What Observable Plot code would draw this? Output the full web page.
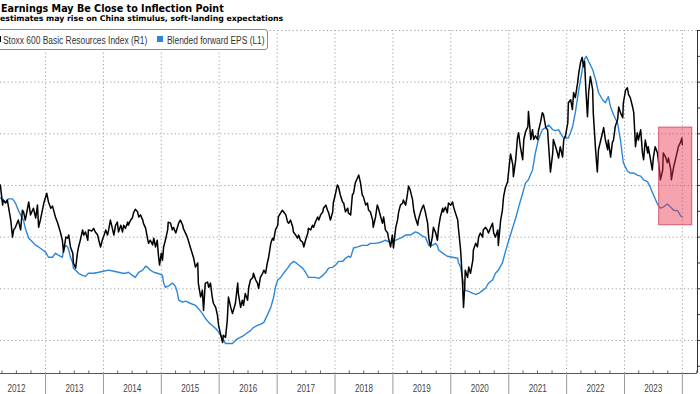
<!DOCTYPE html>
<html><head><meta charset="utf-8">
<script src="https://cdn.jsdelivr.net/npm/d3@7"></script>
<script src="https://cdn.jsdelivr.net/npm/@observablehq/plot@0.6"></script>
<style>
body{margin:0;background:#fff;}
#wrap{position:relative;width:700px;height:394px;overflow:hidden;background:#fff;}
#chart{position:absolute;left:0;top:0;}
.t{position:absolute;white-space:nowrap;line-height:1;color:#000;}
.lg{position:absolute;white-space:nowrap;line-height:1;font:10px 'Liberation Sans',sans-serif;color:#333;transform:scaleX(0.84);transform-origin:0 0;}
.sq{position:absolute;width:6px;height:6px;}
</style></head><body>
<div id="wrap">
  <div id="chart"></div>
  <div class="t" style="left:1px;top:3px;font:bold 9.6px 'DejaVu Sans',sans-serif;">Earnings May Be Close to Inflection Point</div>
  <div class="t" style="left:0px;top:14px;font:bold 7.8px 'DejaVu Sans',sans-serif;">estimates may rise on China stimulus, soft-landing expectations</div>
  <div style="position:absolute;left:-12px;top:29px;width:278px;height:19px;border:1px solid #8a8a8a;border-radius:3px;background:#fff;"></div>
  <div class="sq" style="left:-5px;top:36px;background:#000;"></div>
  <div class="lg" style="left:3px;top:34.5px;">Stoxx 600 Basic Resources Index (R1)</div>
  <div class="sq" style="left:157px;top:36px;background:#2d87d8;"></div>
  <div class="lg" style="left:167px;top:34.5px;">Blended forward EPS (L1)</div>
</div>
<script>
// ---- data (dates as decimal years) ----
const stoxxDates = [2012.22,2012.26,2012.27,2012.31,2012.34,2012.40,2012.43,2012.45,2012.48,2012.53,2012.57,2012.60,2012.62,2012.65,2012.71,2012.74,2012.79,2012.83,2012.86,2012.88,2012.91,2012.97,2013.02,2013.05,2013.09,2013.12,2013.17,2013.21,2013.26,2013.29,2013.31,2013.35,2013.38,2013.40,2013.43,2013.47,2013.48,2013.52,2013.55,2013.57,2013.60,2013.64,2013.66,2013.69,2013.73,2013.74,2013.80,2013.83,2013.86,2013.90,2013.92,2013.95,2013.99,2014.00,2014.04,2014.07,2014.09,2014.12,2014.16,2014.18,2014.21,2014.24,2014.26,2014.30,2014.33,2014.35,2014.38,2014.42,2014.43,2014.47,2014.50,2014.52,2014.55,2014.59,2014.61,2014.64,2014.68,2014.69,2014.73,2014.76,2014.78,2014.81,2014.85,2014.87,2014.90,2014.93,2014.95,2014.97,2015.00,2015.02,2015.04,2015.07,2015.11,2015.12,2015.16,2015.19,2015.21,2015.25,2015.30,2015.33,2015.37,2015.38,2015.45,2015.50,2015.56,2015.59,2015.63,2015.64,2015.68,2015.71,2015.73,2015.76,2015.80,2015.82,2015.85,2015.88,2015.90,2015.94,2015.97,2015.99,2016.02,2016.06,2016.07,2016.11,2016.14,2016.16,2016.20,2016.23,2016.28,2016.32,2016.33,2016.37,2016.40,2016.42,2016.45,2016.49,2016.51,2016.54,2016.58,2016.59,2016.63,2016.66,2016.68,2016.71,2016.75,2016.77,2016.80,2016.83,2016.85,2016.89,2016.92,2016.94,2016.97,2017.01,2017.02,2017.06,2017.09,2017.11,2017.15,2017.18,2017.20,2017.23,2017.27,2017.28,2017.32,2017.35,2017.37,2017.40,2017.44,2017.46,2017.49,2017.53,2017.54,2017.58,2017.61,2017.63,2017.66,2017.70,2017.72,2017.75,2017.79,2017.80,2017.84,2017.87,2017.89,2017.92,2017.96,2017.97,2018.01,2018.04,2018.06,2018.09,2018.13,2018.15,2018.18,2018.22,2018.23,2018.27,2018.30,2018.32,2018.35,2018.39,2018.41,2018.44,2018.47,2018.49,2018.53,2018.56,2018.58,2018.61,2018.65,2018.66,2018.70,2018.73,2018.75,2018.79,2018.82,2018.84,2018.87,2018.91,2018.92,2018.96,2018.99,2019.01,2019.03,2019.05,2019.08,2019.10,2019.13,2019.17,2019.18,2019.22,2019.25,2019.27,2019.30,2019.34,2019.36,2019.39,2019.43,2019.44,2019.48,2019.51,2019.53,2019.56,2019.60,2019.62,2019.65,2019.68,2019.70,2019.74,2019.77,2019.79,2019.82,2019.86,2019.87,2019.91,2019.94,2019.96,2020.00,2020.03,2020.05,2020.08,2020.12,2020.13,2020.17,2020.20,2020.22,2020.24,2020.25,2020.29,2020.31,2020.34,2020.38,2020.39,2020.43,2020.46,2020.48,2020.51,2020.55,2020.56,2020.60,2020.63,2020.65,2020.69,2020.72,2020.74,2020.77,2020.81,2020.82,2020.86,2020.89,2020.91,2020.94,2020.98,2021.00,2021.03,2021.07,2021.08,2021.12,2021.15,2021.17,2021.20,2021.24,2021.26,2021.29,2021.33,2021.34,2021.36,2021.38,2021.41,2021.43,2021.46,2021.50,2021.51,2021.55,2021.58,2021.60,2021.64,2021.67,2021.69,2021.72,2021.76,2021.77,2021.81,2021.84,2021.86,2021.89,2021.93,2021.95,2021.98,2022.02,2022.03,2022.07,2022.10,2022.12,2022.15,2022.19,2022.21,2022.24,2022.27,2022.29,2022.31,2022.33,2022.36,2022.38,2022.41,2022.45,2022.46,2022.50,2022.53,2022.55,2022.59,2022.62,2022.64,2022.67,2022.71,2022.72,2022.76,2022.79,2022.81,2022.84,2022.88,2022.90,2022.93,2022.97,2022.98,2023.02,2023.05,2023.07,2023.10,2023.14,2023.16,2023.19,2023.22,2023.24,2023.28,2023.31,2023.33,2023.36,2023.40,2023.41,2023.45,2023.48,2023.50,2023.53,2023.57,2023.59,2023.62,2023.66,2023.67,2023.71,2023.74,2023.76,2023.80,2023.81,2023.85,2023.88,2023.92,2023.93,2023.97,2023.99,2024.00];
const stoxxValues = [501,462,472,466,472,433,400,414,419,433,414,452,449,433,468,443,456,437,462,419,433,466,485,468,456,460,439,427,408,394,371,400,398,404,381,369,350,340,369,381,394,414,404,410,394,414,412,417,410,404,394,381,398,400,414,404,414,433,414,404,423,429,410,423,410,423,417,429,423,433,437,447,454,449,439,443,433,427,417,398,388,394,385,398,381,394,365,346,369,355,381,394,414,429,427,414,419,408,427,433,423,417,400,381,359,342,350,311,284,297,258,311,313,303,311,284,272,264,249,229,214,196,210,206,239,284,264,252,272,311,291,264,278,268,291,278,303,317,322,330,317,311,301,322,330,336,330,350,359,388,398,394,414,423,439,447,452,449,443,429,427,433,419,410,404,398,404,394,390,381,394,408,417,414,423,419,429,439,433,443,449,456,462,452,447,433,449,466,485,501,497,482,468,466,449,456,447,443,482,485,505,515,520,505,482,478,462,466,452,449,433,419,439,462,456,439,427,439,414,408,400,381,404,379,400,419,433,449,462,466,472,462,482,499,491,472,452,437,423,433,449,458,462,449,427,398,381,400,419,408,394,419,439,456,449,458,447,466,462,468,458,447,433,419,375,317,264,303,336,322,342,330,355,375,388,381,400,408,400,414,419,414,408,419,427,408,400,414,384,433,452,478,495,507,530,561,540,517,550,592,602,575,550,589,604,614,643,618,589,608,589,596,589,604,623,641,637,612,608,575,526,563,589,575,563,553,575,555,589,596,621,660,666,647,680,670,699,718,738,748,730,740,691,633,680,711,685,641,569,526,569,588,602,612,588,569,588,555,583,588,614,627,652,641,631,660,685,689,676,670,652,641,575,602,588,608,563,550,588,563,575,550,530,555,575,563,544,511,530,563,555,544,553,530,511,536,550,569,575,584,592,579];

const epsDates = [2012.22,2012.31,2012.36,2012.43,2012.48,2012.53,2012.57,2012.62,2012.65,2012.71,2012.78,2012.83,2012.88,2012.95,2013.00,2013.05,2013.12,2013.17,2013.22,2013.29,2013.31,2013.35,2013.38,2013.40,2013.43,2013.47,2013.48,2013.52,2013.57,2013.64,2013.69,2013.74,2013.83,2013.92,2014.00,2014.09,2014.18,2014.26,2014.33,2014.38,2014.43,2014.50,2014.55,2014.61,2014.68,2014.73,2014.76,2014.81,2014.87,2014.93,2014.99,2015.02,2015.04,2015.07,2015.12,2015.19,2015.23,2015.25,2015.28,2015.30,2015.37,2015.42,2015.50,2015.59,2015.64,2015.71,2015.76,2015.82,2015.88,2015.94,2015.99,2016.06,2016.11,2016.16,2016.23,2016.28,2016.33,2016.40,2016.45,2016.54,2016.59,2016.66,2016.71,2016.77,2016.83,2016.89,2016.94,2016.97,2017.01,2017.06,2017.11,2017.18,2017.23,2017.28,2017.33,2017.37,2017.44,2017.49,2017.54,2017.61,2017.66,2017.72,2017.79,2017.84,2017.89,2017.96,2018.01,2018.06,2018.13,2018.18,2018.23,2018.27,2018.32,2018.39,2018.47,2018.56,2018.61,2018.70,2018.79,2018.87,2018.96,2019.05,2019.13,2019.22,2019.30,2019.39,2019.44,2019.51,2019.56,2019.62,2019.68,2019.74,2019.77,2019.79,2019.86,2019.94,2020.03,2020.12,2020.13,2020.17,2020.20,2020.22,2020.25,2020.31,2020.38,2020.43,2020.48,2020.55,2020.60,2020.65,2020.72,2020.77,2020.82,2020.89,2020.94,2021.00,2021.07,2021.12,2021.17,2021.24,2021.29,2021.34,2021.41,2021.46,2021.51,2021.58,2021.64,2021.69,2021.76,2021.81,2021.86,2021.93,2021.98,2022.03,2022.10,2022.15,2022.21,2022.27,2022.31,2022.34,2022.38,2022.45,2022.50,2022.55,2022.62,2022.67,2022.72,2022.76,2022.81,2022.88,2022.93,2022.98,2023.05,2023.10,2023.16,2023.22,2023.28,2023.33,2023.40,2023.45,2023.50,2023.57,2023.62,2023.67,2023.74,2023.80,2023.85,2023.92,2023.97,2024.00];
const epsValues = [476,468,474,474,466,452,443,433,417,398,390,384,381,375,371,361,361,369,365,361,375,384,381,375,361,350,340,336,330,326,324,330,330,332,334,336,334,332,330,330,332,326,322,332,336,344,342,336,332,330,328,326,311,303,305,311,307,303,291,278,274,276,272,268,262,252,243,235,229,223,216,204,194,194,194,200,204,208,212,219,225,229,231,235,249,264,284,303,317,322,330,340,348,353,350,346,340,332,322,322,322,320,326,332,340,342,346,353,353,359,363,361,379,381,384,384,388,388,390,394,390,394,398,404,404,410,408,402,400,384,384,388,383,375,369,363,361,359,351,342,322,311,297,295,291,289,291,297,301,311,317,330,336,350,371,394,419,437,458,485,505,511,530,563,588,608,612,617,608,606,608,594,592,592,612,641,685,724,744,750,740,724,705,680,666,660,672,652,637,621,588,544,528,524,524,520,518,511,507,495,482,464,456,458,464,458,452,451,441,439];

const highlight = {start: 2023.60, end: 2024.17, low: 423, high: 612};
const yearLabels = [2012,2013,2014,2015,2016,2017,2018,2019,2020,2021,2022,2023];
const gridValues = [200,300,400,500,600,700,800];
const rightTicks = [150,200,250,300,350,400,450,500,550,600,650,700,750,800];
const xStart = 2012.223, xEnd = 2024.261, yMin = 136, yMax = 800;

// ---- build ----
const dec2date = t => { const y = Math.floor(t); const a = Date.UTC(y,0,1), b = Date.UTC(y+1,0,1); return new Date(a + (t - y) * (b - a)); };
const stoxx = stoxxDates.map((t,i) => ({date: dec2date(t), value: stoxxValues[i]}));
const eps = epsDates.map((t,i) => ({date: dec2date(t), value: epsValues[i]}));
const yearStarts = yearLabels.map(y => new Date(Date.UTC(y + 1, 0, 1)));
const yearMids = yearLabels.map(y => new Date(Date.UTC(y, 6, 2)));
const quarters = d3.utcMonth.every(3).range(new Date(Date.UTC(2012,3,1)), dec2date(xEnd)).filter(d => d.getUTCMonth() !== 0);
const xEndDate = dec2date(xEnd);

const grid = {stroke: "#a0a0a0", strokeDasharray: "1.2,2.6", strokeWidth: 1};
const chart = Plot.plot({
  width: 700, height: 394,
  marginTop: 30, marginBottom: 21, marginLeft: 0, marginRight: 3,
  x: {type: "utc", domain: [dec2date(xStart), xEndDate]},
  y: {domain: [yMin, yMax]},
  style: {fontFamily: "'Liberation Sans', sans-serif", fontSize: "10px", background: "#fff", overflow: "visible"},
  marks: [
    Plot.ruleY(gridValues, grid),
    Plot.ruleX(yearStarts, {y1: yMin, y2: yMax, ...grid}),
    Plot.line(eps, {x: "date", y: "value", stroke: "#2d87d8", strokeWidth: 1.4}),
    Plot.line(stoxx, {x: "date", y: "value", stroke: "#000", strokeWidth: 1.5}),
    Plot.rect([highlight], {x1: d => dec2date(d.start), x2: d => dec2date(d.end), y1: "low", y2: "high",
      fill: "#e8364e", fillOpacity: 0.45, stroke: "#d9566b", strokeWidth: 1}),
    Plot.ruleY([yMin], {stroke: "#555"}),
    Plot.ruleX([xEndDate], {y1: yMin, y2: yMax, stroke: "#333"}),
    Plot.axisY({anchor: "right", ticks: rightTicks, tickSize: 3, tickFormat: () => "", label: null, stroke: "#333"}),
    Plot.ruleX(quarters, {y1: yMin, y2: yMin + 5, stroke: "#666"}),
    Plot.axisX({ticks: yearStarts, tickSize: 21, tickFormat: () => "", label: null, stroke: "#999"}),
    Plot.axisX({ticks: yearMids, tickSize: 0, tickPadding: 11, tickFormat: d => String(d.getUTCFullYear()), label: null, fill: "#444"})
  ]
});
d3.select(chart).selectAll("text")
  .filter(function() { return /^\d{4}$/.test(this.textContent); })
  .attr("textLength", 18).attr("lengthAdjust", "spacingAndGlyphs");
document.getElementById("chart").appendChild(chart);
</script>
</body></html>
